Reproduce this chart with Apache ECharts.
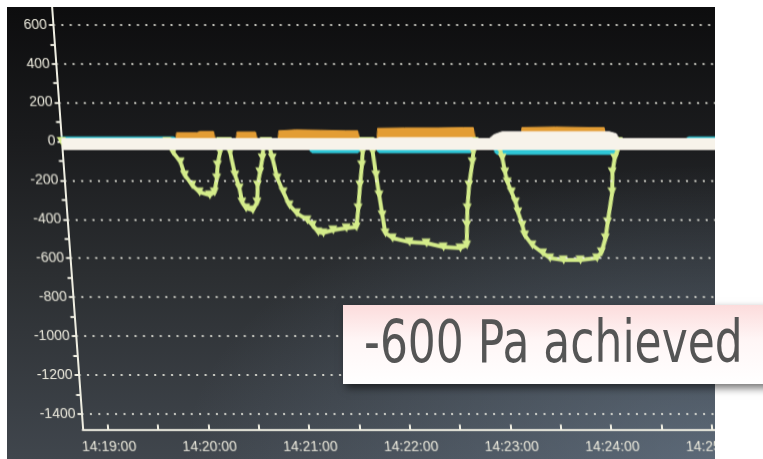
<!DOCTYPE html>
<html><head><meta charset="utf-8">
<script src="https://cdn.jsdelivr.net/npm/echarts@6/dist/echarts.min.js"></script>
<style>
html,body{margin:0;padding:0;background:#fff;width:763px;height:459px;overflow:hidden}
#screen{position:absolute;left:7px;top:7px;width:708px;height:452px;overflow:hidden;
 background:
  radial-gradient(ellipse 75% 65% at 100% 100%, rgba(120,140,162,0.5), rgba(120,140,162,0) 100%),
  linear-gradient(to bottom, #0d0d0e 0%, #1b1c1e 30%, #2c2f32 60%, #40464d 100%);}
#chart{position:absolute;left:0;top:0;width:750px;height:452px;transform:skewX(4.2deg);transform-origin:0 134.5px}
#overlay{position:absolute;left:0;top:0;width:763px;height:459px;pointer-events:none}
</style></head><body>
<div id="screen"><div id="chart"></div></div>
<div id="overlay"></div>
<script>
// ---- tick labels ----
const xTickLabels = ['14:19:00','14:20:00','14:21:00','14:22:00','14:23:00','14:24:00','14:25:00'];
const xTickTimes = ['14:19:00','14:19:30','14:20:00','14:20:30','14:21:00','14:21:30','14:22:00','14:22:30','14:23:00','14:23:30','14:24:00','14:24:30','14:25:00'];
const yTickLabels = [600,400,200,0,-200,-400,-600,-800,-1000,-1200,-1400];
const yTickValues = [600,500,400,300,200,100,0,-100,-200,-300,-400,-500,-600,-700,-800,-900,-1000,-1100,-1200,-1300,-1400];

// ---- green (pressure) series ----
const greenTimes = ['14:18:45','14:19:48','14:19:51','14:19:55','14:19:57','14:20:01','14:20:05','14:20:11','14:20:14','14:20:16','14:20:17','14:20:19','14:20:20',
'14:20:24','14:20:25','14:20:27','14:20:29','14:20:30','14:20:32','14:20:36','14:20:39','14:20:40','14:20:42','14:20:44','14:20:45','14:20:46',
'14:20:48','14:20:50','14:20:52','14:20:55','14:20:58','14:21:02','14:21:08','14:21:11','14:21:14','14:21:17','14:21:23','14:21:31','14:21:37','14:21:39','14:21:41','14:21:43','14:21:44','14:21:45',
'14:21:49','14:21:50','14:21:51','14:21:52','14:21:53','14:21:54','14:21:58','14:22:08','14:22:18','14:22:28','14:22:38','14:22:42','14:22:43','14:22:44','14:22:46','14:22:49','14:22:50','14:22:51',
'14:23:05','14:23:06','14:23:07','14:23:08','14:23:09','14:23:11','14:23:13','14:23:14','14:23:16','14:23:17','14:23:21','14:23:27','14:23:31','14:23:39','14:23:49','14:23:59','14:24:02','14:24:05','14:24:07','14:24:11','14:24:12','14:24:14','14:24:16','14:24:17','14:25:20'];
const greenValues = [0,0,-54,-105,-172,-224,-260,-275,-260,-188,-121,-54,0,
0,-54,-172,-239,-311,-342,-352,-311,-224,-157,-85,-33,0,
0,-85,-188,-260,-326,-368,-403,-429,-465,-470,-455,-445,-439,-342,-224,-121,-54,0,
0,-54,-172,-275,-378,-470,-496,-517,-522,-542,-547,-532,-429,-342,-224,-105,-54,0,
0,-44,-85,-157,-208,-260,-311,-362,-429,-481,-532,-573,-599,-609,-609,-599,-568,-496,-414,-260,-157,-85,-44,0,0];

// ---- orange series ----
const orangeTimes = ['14:18:45','14:19:53','14:19:54','14:20:06','14:20:08','14:20:16','14:20:17','14:20:29','14:20:30','14:20:41','14:20:42',
'14:20:54','14:20:55','14:21:05','14:21:20','14:21:35','14:21:42','14:21:43','14:21:53','14:21:54','14:22:10','14:22:30','14:22:45','14:22:51','14:22:52',
'14:23:19','14:23:20','14:23:40','14:24:00','14:24:09','14:24:10','14:25:20'];
const orangeValues = [0,0,45,45,52,52,0,0,49,49,0,
0,55,60,58,55,55,0,0,68,70,70,72,72,0,
0,72,75,72,72,0,0];

// ---- cyan series ----
const cyanTimes = ['14:18:45','14:19:52','14:19:53','14:21:13','14:21:14','14:21:41','14:21:42','14:21:53','14:21:54','14:22:48','14:22:49',
'14:23:03','14:23:04','14:24:15','14:24:16','14:24:58','14:24:59','14:25:20'];
const cyanValues = [13,13,0,0,-48,-48,0,0,-48,-48,0,0,-55,-55,0,0,13,13];

// ---- white series (baseline band + raised part) ----
const whiteTimes = ['14:18:45','14:25:20'];
const whiteValues = [-13,-13];
const whiteTopTimes = ['14:18:45','14:21:52','14:21:54','14:22:50','14:22:52','14:22:58','14:23:03','14:23:08','14:24:12','14:24:16','14:24:18','14:25:20'];
const whiteTopValues = [0,0,20,20,0,0,35,50,50,40,0,0];

const BASE = 14*3600 + 19*60;
function toSec(t){ const p = t.split(':').map(Number); return p[0]*3600 + p[1]*60 + p[2] - BASE; }
function pairs(ts, vs){ return ts.map((t,i)=>[toSec(t), vs[i]]); }
const labelBySec = {}; xTickLabels.forEach(l => labelBySec[toSec(l)] = l);

const axisColor = '#efeee2';
const textColor = '#ebe9dc';
const chart = echarts.init(document.getElementById('chart'));
chart.setOption({
  animation: false,
  backgroundColor: 'transparent',
  grid: { left: 54.5, top: 0.3, width: 662.8, height: 422.1, containLabel: false },
  xAxis: {
    type: 'value', min: -15, max: 380,
    axisLine: { show: true, onZero: false, lineStyle: { color: axisColor, width: 2 } },
    axisTick: { show: true, inside: true, length: 5, customValues: xTickTimes.map(toSec), lineStyle: { color: axisColor, width: 2 } },
    axisLabel: { customValues: xTickLabels.map(toSec), formatter: v => labelBySec[v] || '', color: textColor, fontSize: 14, fontFamily: 'Liberation Sans', margin: 11 },
    splitLine: { show: false }
  },
  yAxis: {
    type: 'value', min: -1480, max: 690,
    axisLine: { show: true, onZero: false, lineStyle: { color: axisColor, width: 2 } },
    axisTick: { show: true, length: 4, customValues: yTickValues, lineStyle: { color: axisColor, width: 2 } },
    axisLabel: { customValues: yTickLabels, formatter: v => String(v), color: textColor, fontSize: 14, fontFamily: 'Liberation Sans', margin: 6 },
    splitLine: { show: false }
  },
  series: [
    { name: 'orange', type: 'line', z: 2, data: pairs(orangeTimes, orangeValues), showSymbol: false,
      lineStyle: { color: '#e39d34', width: 1 }, itemStyle: { color: '#e39d34' }, areaStyle: { color: '#e39d34', opacity: 1 },
      markLine: { silent: true, symbol: ['none','none'], label: { show: false },
        lineStyle: { color: 'rgba(236,236,226,0.85)', width: 2, type: [2, 6.4] },
        data: yTickLabels.map(v => ({ yAxis: v })) } },
    { name: 'cyan', type: 'line', z: 3, data: pairs(cyanTimes, cyanValues), showSymbol: false,
      lineStyle: { color: '#2ec6d6', width: 5 }, itemStyle: { color: '#2ec6d6' } },
    { name: 'green', type: 'line', z: 4, data: pairs(greenTimes, greenValues),
      symbol: 'triangle', symbolRotate: 180, symbolSize: 9, showAllSymbol: true,
      lineStyle: { color: '#d4ec8a', width: 4 }, itemStyle: { color: '#d4ec8a' } },
    { name: 'whiteTop', type: 'line', z: 5, data: pairs(whiteTopTimes, whiteTopValues), showSymbol: false,
      lineStyle: { color: '#f7f3ea', width: 1 }, areaStyle: { color: '#f7f3ea', opacity: 1 } },
    { name: 'white', type: 'line', z: 6, data: pairs(whiteTimes, whiteValues), showSymbol: false,
      lineStyle: { color: '#f7f3ea', width: 12 } }
  ]
});

const overlay = echarts.init(document.getElementById('overlay'));
overlay.setOption({
  animation: false,
  graphic: [
    { type: 'rect', shape: { x: 343, y: 305, width: 440, height: 79 },
      style: { fill: new echarts.graphic.LinearGradient(0,0,0,1,[{offset:0,color:'#fcdcdc'},{offset:0.45,color:'#fff6f6'},{offset:1,color:'#ffffff'}]),
        shadowBlur: 8, shadowOffsetX: 3, shadowOffsetY: 4, shadowColor: 'rgba(0,0,0,0.55)' } },
    { type: 'text', x: 364, y: 347, scaleY: 1.35, originX: 0, originY: 0,
      style: { text: '-600 Pa achieved', font: '44px "DejaVu Sans"', fill: '#555555', verticalAlign: 'middle', align: 'left' } }
  ]
});
</script>
</body></html>
